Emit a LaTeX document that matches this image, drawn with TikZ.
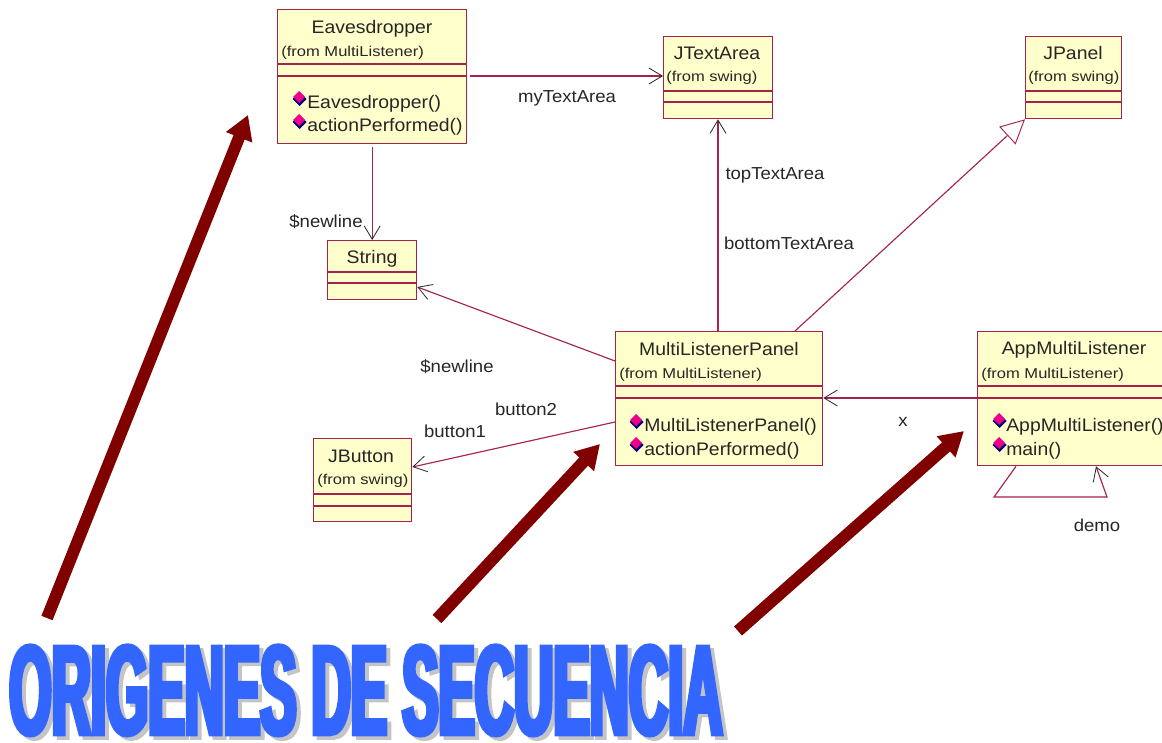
\documentclass[tikz,border=0pt]{standalone}
\usepackage{fontspec}
\usetikzlibrary{arrows.meta,calc}
\setmainfont{Liberation Sans}
\newfontfamily\titlefont[FakeBold=3,FakeStretch=0.33]{Liberation Sans Bold}
\newfontfamily\umlfont[FakeStretch=1.07]{Liberation Sans}
\newfontfamily\smallfont[FakeStretch=1.16]{Liberation Sans}
\definecolor{umlline}{HTML}{A5214E}
\definecolor{umlfill}{HTML}{FFFFCC}
\definecolor{umltext}{HTML}{262626}
\definecolor{bigred}{HTML}{800000}
\definecolor{titleblue}{HTML}{3366FF}
\definecolor{titleshadow}{HTML}{C4C4C4}
\tikzset{
  umlbox/.style={draw=umlline,fill=umlfill,line width=1pt,inner sep=0pt,anchor=north west},
  divider/.style={draw=umlline,line width=1pt},
  conn/.style={draw=umlline,line width=0.85pt},
  openhead/.style={-{Straight Barb[length=10pt,width=12pt,color=black!85,line width=0.6pt]}},
  nameText/.style={font=\umlfont\fontsize{13.6}{15}\selectfont,text=umltext,inner sep=0pt,yshift=-1pt},
  fromText/.style={font=\smallfont\fontsize{10.7}{12}\selectfont,text=umltext,inner sep=0pt,anchor=west,yshift=-0.6pt},
  methodText/.style={font=\umlfont\fontsize{13.6}{15}\selectfont,text=umltext,inner sep=0pt,anchor=west,yshift=-1pt},
  edgeText/.style={font=\umlfont\fontsize{13}{15}\selectfont,text=umltext,inner sep=0pt,yshift=-0.6pt},
  bigarrow/.style={draw=bigred,line width=9pt,-{Triangle[length=18pt,width=20pt,color=bigred]}},
}
% name, x1, y1, x2, y2, divider y1, divider y2
\newcommand{\umlclass}[7]{%
  \node[umlbox,minimum width=#4*0.75pt-#2*0.75pt,minimum height=#5*0.75pt-#3*0.75pt] (#1) at (#2,#3) {};
  \draw[divider] (#2,#6) -- (#4,#6);
  \draw[divider] (#2,#7) -- (#4,#7);
}
\newcommand{\umlmark}[2]{%
  \fill[blue!45!black] (#1+0.5,#2-6) -- (#1+7.5,#2+1) -- (#1+0.5,#2+8) -- (#1-6.5,#2+1) -- cycle;
  \fill[magenta] (#1,#2-7) -- (#1+6,#2-1) -- (#1,#2+5) -- (#1-6,#2-1) -- cycle;
}
\begin{document}
\begin{tikzpicture}[x=0.75pt,y=-0.75pt]
\clip (0,0) rectangle (1162,742);
\useasboundingbox (0,0) rectangle (1162,742);
\fill[white] (0,0) rectangle (1162,742);

\umlclass{eaves}{277}{9}{466}{143}{64}{76}
\umlclass{textarea}{663}{36}{772}{118}{91}{102}
\umlclass{panel}{1025}{36}{1121}{118}{91}{102}
\umlclass{string}{327}{240}{416}{299}{272}{283}
\umlclass{mlp}{615}{331}{822}{465}{386}{398}
\umlclass{app}{977}{331}{1170}{465}{386}{398}
\umlclass{button}{313}{438}{411}{521}{494}{506}

% class texts
\node[nameText] (t1) at (372,27) {Eavesdropper};
\node[fromText] (f1) at (281,52.5) {(from MultiListener)};
\node[methodText] (m1a) at (307,102.5) {Eavesdropper()};
\node[methodText] (m1b) at (307,125) {actionPerformed()};
\umlmark{299}{98}\umlmark{299}{121}

\node[nameText] (t2) at (717,52) {JTextArea};
\node[fromText] (f2) at (666,77.5) {(from swing)};
\node[nameText] (t3) at (1073,52) {JPanel};
\node[fromText] (f3) at (1028,77.5) {(from swing)};
\node[nameText] (t4) at (372,257) {String};

\node[nameText] (t5) at (719,348) {MultiListenerPanel};
\node[fromText] (f5) at (619,374.5) {(from MultiListener)};
\node[methodText] (m5a) at (644,425) {MultiListenerPanel()};
\node[methodText] (m5b) at (644,449) {actionPerformed()};
\umlmark{636}{421}\umlmark{636}{444}

\node[nameText] (t6) at (1074,348) {AppMultiListener};
\node[fromText] (f6) at (981,374.5) {(from MultiListener)};
\node[methodText] (m6a) at (1006,425) {AppMultiListener()};
\node[methodText] (m6b) at (1006,449) {main()};
\umlmark{999}{420}\umlmark{999}{444}

\node[nameText] (t7) at (361,455) {JButton};
\node[fromText] (f7) at (317,480.5) {(from swing)};

% connectors
\draw[conn,openhead] ([xshift=2pt]eaves.east |- 0,76) -- (textarea.west |- 0,76);
\draw[conn,openhead] ([yshift=-2pt]eaves.south) -- (string.north);
\draw[conn,openhead] (mlp.north -| 718,0) -- (textarea.south -| 718,0);
\draw[conn,-{Triangle[open,length=18pt,width=18pt,color=umlline,fill=white,line width=0.7pt]}]
  (mlp.north -| 795,0) -- (panel.south west);
\draw[conn,openhead] (mlp.west |- 0,361) -- (string.east |- 0,287);
\draw[conn,openhead] (mlp.west |- 0,422) -- (button.east |- 0,467);
\draw[conn,openhead] (app.west |- 0,398) -- (mlp.east |- 0,398);
\coordinate (loopa) at (994,497);
\coordinate (loopb) at (1107,497);
\draw[conn,openhead] (app.south -| 1016,0) -- (loopa) -- (loopb) -- (app.south -| 1096,0);

% connector labels
\node[edgeText] (l1) at (567,98) {myTextArea};
\node[edgeText] (l2) at (775,175) {topTextArea};
\node[edgeText] (l3) at (789,243) {bottomTextArea};
\node[edgeText] (l4) at (326,221) {\$newline};
\node[edgeText] (l5) at (457,366) {\$newline};
\node[edgeText] (l6) at (526,408) {button2};
\node[edgeText] (l7) at (455,430) {button1};
\node[edgeText] (l8) at (903,421) {x};
\node[edgeText] (l9) at (1097,524) {demo};

% big arrows
\coordinate (s1) at (47,618);
\coordinate (s2) at (437,619);
\coordinate (s3) at (738,631);
\coordinate (e1) at (248,115);
\coordinate (e2) at (600,444);
\coordinate (e3) at (964,431);
\draw[bigarrow] (s1) -- (e1);
\draw[bigarrow] (s2) -- (e2);
\draw[bigarrow] (s3) -- (e3);

% title
\node[inner sep=0pt,anchor=north west,text=titleshadow] (titleb) at (13,648.5)
  {\resizebox{713\dimexpr 0.75pt\relax}{89\dimexpr 0.75pt\relax}{\titlefont ORIGENES DE SECUENCIA}};
\node[inner sep=0pt,anchor=north west,text=titleblue] (titlea) at (9,645)
  {\resizebox{713\dimexpr 0.75pt\relax}{89\dimexpr 0.75pt\relax}{\titlefont ORIGENES DE SECUENCIA}};
\end{tikzpicture}
\end{document}
